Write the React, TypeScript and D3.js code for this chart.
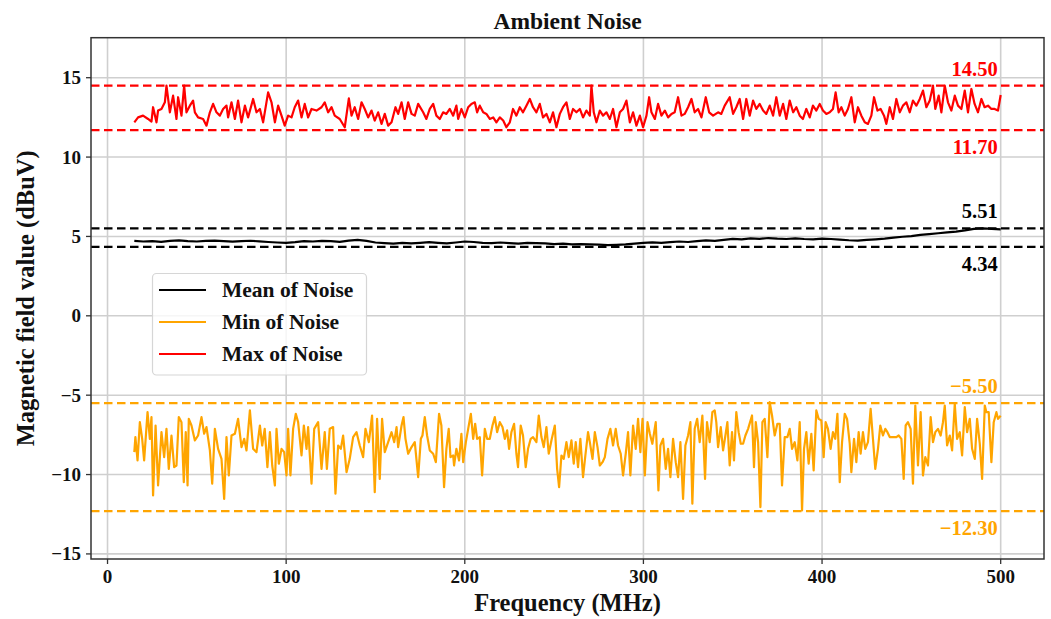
import React from "react";
import * as d3 from "d3";

// ---- Data ----
const xTicks = [0, 100, 200, 300, 400, 500];
const yTicks = [-15, -10, -5, 0, 5, 10, 15];
const seriesNames = ["Mean of Noise", "Min of Noise", "Max of Noise"];
const maxBounds = [14.5, 11.7];
const meanBounds = [5.51, 4.34];
const minBounds = [-5.5, -12.3];

const maxNoise: [number, number][] = [
  [15,12.19],[17.1,12.5],[19.9,12.61],[22.7,12.4],[24.6,12.23],[25.5,13.14],[27.4,12.19],[28.3,12.93],[30.2,13.03],[32.1,13.45],[33,14.5],[34.9,12.82],[36.7,13.87],[38.6,12.4],[39.5,13.77],[41.4,12.61],[42.9,14.5],[44.2,12.82],[46.1,13.24],[47.9,13.56],[48.9,12.82],[50.7,12.5],[53.5,12.4],[55.4,11.98],[57.3,12.82],[59.1,13.35],[61,12.82],[62.9,12.61],[64.7,13.03],[66.6,13.24],[67.5,12.5],[69.4,13.45],[71.3,12.4],[73.1,13.56],[75,12.19],[76.9,13.24],[78.7,12.5],[81.5,13.66],[83.4,12.82],[85.3,13.03],[87.1,12.19],[89.9,14.08],[91.8,13.45],[93.7,12.19],[95.5,13.24],[97.4,12.61],[99.2,11.98],[101.1,12.61],[103,12.5],[104.8,13.14],[106.7,13.56],[108.6,12.5],[110.4,13.35],[112.3,12.5],[114.2,13.03],[117,12.93],[119.8,13.14],[121.6,13.45],[123.5,12.82],[125.4,13.14],[127.2,12.61],[130,12.4],[132.8,11.88],[135.1,13.7],[136.6,12.61],[138.4,13.14],[140.3,12.4],[142.2,13.45],[144,13.03],[145.9,12.5],[147.8,12.93],[149.6,12.3],[151.5,12.82],[153.4,12.09],[155.2,12.72],[157.1,11.98],[159,12.19],[161.2,13.14],[162.7,12.72],[164.6,13.45],[166.4,12.4],[168.3,13.45],[170.2,12.72],[172,12.61],[173.9,13.35],
  [176.7,12.82],[178.5,12.4],[180.4,13.03],[182.3,13.35],[184.1,12.61],[186,12.4],[187.9,12.82],[189.7,12.72],[191.6,13.03],[193.5,12.61],[195.3,13.24],[196.3,12.4],[198.1,13.03],[200,12.5],[201.9,13.14],[203.7,13.35],[205.6,13.45],[206.9,12.82],[208.4,13.24],[210.3,12.82],[212.1,12.72],[214,12.4],[215.9,12.5],[217.7,12.19],[219.6,12.5],[221.5,12.3],[223.3,11.88],[225.2,12.19],[227,13.03],[228.9,12.61],[230.8,13.14],[232.6,12.82],[234.5,13.24],[236.4,13.66],[238.2,13.14],[240.1,12.82],[242,13.35],[243.8,12.5],[245.7,12.72],[247.6,12.19],[249.4,12.82],[251.3,11.88],[253.2,12.72],[255,13.14],[256.9,13.45],[258.8,12.4],[260.6,13.03],[262.5,12.82],[264.4,13.03],[266.2,12.5],[268.1,12.93],[270,12.61],[270.9,14.5],[272.2,12.82],[273.7,12.19],[275.6,12.93],[277.4,12.61],[279.3,12.82],[281.2,12.4],[283,13.03],[284.9,11.88],[286.8,12.82],[288.6,13.03],[290.5,13.56],[292.4,12.19],[294.2,12.82],[296.1,11.98],[298,12.61],[299.8,11.88],[301.7,12.61],[303.2,13.77],[304.5,12.82],[306.4,12.4],[308.2,13.35],[310.1,12.61],[312,12.93],[313.8,12.5],[315.7,12.72],[317.5,12.82],[319.4,13.77],[321.3,12.61],[323.1,12.72],[325,13.14],[326.9,13.66],[328.7,12.82],[330.6,13.03],[332.5,12.5],[334.9,13.77],[336.8,12.82],[339,12.61],
  [341.8,12.82],[343.6,12.72],[345.5,13.24],[348.3,13.77],[350.2,12.72],[352,13.14],[353.9,13.66],[355.8,12.4],[357.6,13.66],[359.5,12.61],[361.4,13.56],[363.2,13.03],[365.1,13.35],[367,12.93],[368.8,12.72],[370.7,13.24],[372.6,12.61],[374.4,13.77],[376.3,12.61],[378.2,13.35],[380,12.4],[381.9,13.56],[383.8,12.82],[385.6,13.14],[387.5,12.61],[389.3,12.4],[391.2,13.03],[393.1,12.5],[394.9,13.24],[396.8,12.93],[398.7,13.35],[400.5,12.93],[402.4,12.72],[404.3,12.82],[406.1,13.03],[407.6,14.08],[409.3,12.82],[410.8,13.14],[412.7,12.61],[414.5,13.03],[416.4,13.77],[418.3,12.19],[420.1,13.14],[422,12.61],[423.9,12.19],[425.7,12.09],[427.6,12.61],[429.1,13.77],[431,12.93],[432.8,13.03],[434.7,12.61],[436,12.09],[437.9,13.14],[439.7,12.4],[441.6,13.66],[443.5,12.82],[445.3,13.24],[447.2,13.45],[449.1,12.82],[450.9,13.56],[452.8,13.24],[454.7,13.66],[456.5,14.19],[458.4,13.14],[460.3,13.56],[462.1,14.5],[463.4,13.03],[465.3,13.87],[466.8,12.82],[468.7,14.5],[470.5,13.45],[472.4,12.93],[474.3,13.87],[476.1,13.24],[478,13.03],[479.9,14.19],[481.7,12.82],[483.6,14.29],[485.4,13.35],[487.3,12.82],[489.2,13.66],[491,13.14],[492.9,13.24],[494.8,13.03],[496.6,13.03],[498.5,12.93],[500,13.91]
];

const minNoise: [number, number][] = [
  [15,-8.59],[15.6,-7.64],[16.8,-9.11],[18.1,-6.7],[19.4,-7.75],[20.5,-9.11],[22.4,-6.07],[23.7,-7.75],[24.6,-6.38],[25.5,-11.32],[26.9,-6.91],[28.3,-10.69],[30.2,-7.33],[31.7,-8.9],[33,-7.12],[34.3,-9.64],[35.8,-7.54],[37.3,-9.53],[38.6,-9.43],[39.9,-6.38],[41.4,-6.7],[42.7,-10.48],[43.8,-7.33],[44.8,-10.69],[45.5,-6.49],[47,-6.91],[48.9,-7.85],[50.7,-7.54],[52.6,-6.38],[54.1,-7.43],[55.4,-7.01],[57.3,-8.48],[58.6,-10.58],[60.1,-7.12],[61.9,-8.38],[63.8,-9.01],[65.3,-11.53],[66.6,-7.64],[67.9,-10.06],[69.4,-7.54],[71.3,-7.43],[73.1,-6.49],[75,-8.27],[76.5,-7.75],[77.8,-8.48],[79.7,-5.96],[81.5,-8.38],[83.4,-8.59],[85.3,-6.91],[86.6,-8.17],[88,-7.12],[89.5,-9.53],[90.9,-7.33],[92.2,-9.43],[93.7,-10.69],[94.6,-7.12],[95.9,-9.32],[97.4,-8.38],[98.9,-8.59],[100.2,-10.06],[101.1,-7.12],[102.4,-10.06],[103.9,-7.12],[105.4,-6.17],[106.7,-6.7],[108.6,-8.8],[109.9,-6.91],[111.4,-8.38],[112.3,-7.01],[114.2,-10.58],[115.7,-7.12],[117.9,-6.7],[119.8,-9.64],[121.6,-7.33],[122.8,-9.64],[124.4,-7.12],[126.3,-7.01],[127.6,-11.21],[129.1,-8.17],[130.6,-8.38],[131.9,-7.54],[133.8,-9.85],[135.6,-9.01],[137.5,-7.64],[139.4,-7.33],[141.2,-8.17],[143.1,-8.9],[144.4,-7.12],[146.3,-7.96],[148.1,-6.28],[149.6,-11.11],[150.9,-6.49],[152.4,-10.27],[153.7,-6.49],[155.2,-8.59],[157.1,-7.96],[159,-7.33],[160.5,-7.96],[161.8,-7.01],[162.7,-8.27],[164.6,-6.91],[165.7,-6.38],[166.8,-7.75],[168.3,-8.69],[170.2,-8.27],[172,-7.96],[173.9,-10.16],[175.4,-7.75],
  [176.3,-7.54],[177.6,-6.38],[178.9,-7.54],[180.4,-8.48],[182.3,-8.69],[183.8,-9.22],[185.6,-6.17],[186.9,-6.91],[188.4,-10.79],[189.7,-8.38],[191,-7.12],[192,-8.9],[193.5,-8.8],[194,-9.43],[195.3,-8.38],[196.8,-9.11],[198.1,-7.43],[199.1,-9.22],[200.6,-7.96],[201.9,-7.12],[203.4,-6.17],[204.7,-7.75],[205.8,-6.8],[206.9,-7.75],[208.4,-7.64],[209.7,-10.06],[211.2,-7.12],[212.5,-7.75],[214,-7.75],[215.5,-6.91],[216.8,-6.38],[218.1,-7.33],[219.6,-6.7],[221.1,-7.01],[222.4,-7.75],[223.7,-7.22],[224.8,-8.38],[226.1,-7.33],[227.6,-6.8],[228.9,-8.69],[229.8,-9.53],[231.3,-6.91],[232.6,-7.54],[234.1,-9.53],[235.4,-8.38],[236.9,-7.75],[238.2,-7.64],[240.1,-7.96],[241.4,-6.28],[242.9,-7.64],[244.2,-8.27],[245.7,-7.01],[247,-8.69],[248.5,-7.85],[250.4,-6.91],[251.7,-9.64],[252.8,-10.79],[254.1,-8.8],[255.4,-9.01],[256.9,-7.96],[258.2,-8.9],[259.7,-7.85],[261,-9.32],[262.1,-7.96],[263.4,-9.53],[264.7,-7.75],[266.2,-10.16],[267.5,-8.8],[269,-7.33],[270,-7.96],[271.5,-9.01],[272.8,-7.33],[274.3,-8.27],[275.6,-9.43],[277.1,-9.22],[278.4,-8.9],[279.9,-7.75],[281.5,-7.12],[283,-8.17],[284.5,-7.12],[285.8,-8.17],[287.3,-8.69],[288.6,-10.06],[290.1,-8.69],[291.4,-7.33],[292.7,-10.06],[294.2,-6.91],[295.7,-8.38],[297,-6.49],[298.3,-8.59],[299.5,-6.49],[300.8,-10.06],[302.3,-6.7],[303.6,-7.43],[305,-8.06],[306.9,-6.7],[308.4,-11],[309.5,-8.17],[311,-7.75],[312.5,-9.64],[313.8,-8.38],[315.1,-10.16],[316.6,-7.75],[318.1,-9.22],[319.4,-10.16],[320.7,-7.96],[322.2,-11.53],[323.5,-8.17],[325,-7.54],[326.3,-6.7],[327.4,-11.84],[328.7,-7.12],[330.1,-6.49],[331.5,-7.96],[333,-6.28],[334.5,-10.27],[335.6,-6.7],[337.1,-7.96],[338.6,-6.07],
  [339.9,-5.96],[340.8,-6.7],[341.8,-8.27],[343.3,-7.01],[344.6,-8.48],[345.9,-7.54],[347,-6.7],[348.3,-9.43],[349.6,-7.33],[350.7,-9.11],[352,-6.07],[353.3,-7.33],[354.5,-8.06],[355.8,-8.06],[357.1,-7.54],[358.6,-7.12],[360.8,-6.28],[361.9,-9.53],[362.9,-6.7],[364.2,-7.96],[365.5,-12.05],[366.6,-6.7],[367.9,-6.49],[369.4,-8.9],[370.7,-5.44],[372,-6.28],[373.5,-7.54],[375,-6.8],[376.3,-6.8],[377.6,-10.69],[379.1,-7.64],[380.6,-7.64],[381.9,-7.12],[383.2,-8.38],[384.7,-7.96],[386.2,-9.11],[387.5,-6.7],[388.8,-12.26],[389.9,-8.38],[391.2,-7.33],[392.5,-9.32],[394,-7.43],[395.3,-9.74],[396.8,-5.96],[398.1,-6.49],[399.6,-6.59],[400.9,-8.9],[402,-6.7],[403.3,-7.12],[404.8,-8.38],[406.1,-7.33],[407.4,-7.75],[408.6,-6.17],[409.9,-10.48],[411.2,-7.96],[412.7,-6.17],[414,-6.49],[415.5,-8.06],[416.4,-9.85],[417.9,-7.75],[419.2,-9.22],[420.5,-7.33],[421.6,-8.69],[422.9,-7.33],[424.2,-8.38],[425.7,-7.96],[427.2,-5.86],[428.5,-7.75],[429.8,-9.64],[431.3,-8.38],[432.6,-6.91],[434.1,-7.54],[435.4,-7.12],[436.6,-7.33],[437.9,-7.64],[439.7,-7.64],[441.6,-7.64],[442.9,-7.54],[444.4,-7.75],[445.7,-10.27],[446.8,-6.91],[448.1,-6.7],[449.6,-7.12],[450.9,-10.58],[452.2,-5.65],[453.7,-9.43],[455.2,-6.07],[456.5,-10.06],[457.8,-8.9],[459.3,-9.43],[460.8,-6.38],[462.1,-7.96],[463.4,-7.33],[464.9,-7.12],[466.4,-7.54],[467.7,-6.7],[468.7,-5.65],[470,-8.17],[471.5,-7.54],[472.8,-8.48],[474.3,-5.54],[475.6,-7.75],[477.1,-7.33],[478.4,-8.8],[479.9,-5.75],[481.2,-7.33],[482.7,-6.49],[484,-8.38],[485.5,-9.01],[486.8,-6.49],[488.3,-8.06],[489.6,-10.27],[491.1,-5.65],[492,-6.07],[493.3,-6.07],[494.8,-9.22],[496.1,-6.7],[497.6,-6.07],[498.5,-6.49],[500,-6.3]
];

const meanNoise: [number, number][] = [
  [15,4.72],[20,4.68],[25,4.7],[30,4.66],[35,4.72],[40,4.75],[45,4.7],[50,4.68],[55,4.72],[60,4.74],[65,4.7],[70,4.67],[75,4.7],[80,4.73],[85,4.69],[90,4.65],[95,4.62],[100,4.6],[105,4.64],[110,4.7],[115,4.68],[120,4.72],[125,4.7],[130,4.66],[135,4.74],[140,4.78],[145,4.72],[150,4.62],[155,4.58],[160,4.55],[165,4.6],[170,4.56],[175,4.6],[180,4.64],[185,4.6],[190,4.56],[195,4.62],[200,4.68],[205,4.65],[210,4.6],[215,4.58],[220,4.62],[225,4.58],[230,4.55],[235,4.6],[240,4.58],[245,4.56],[250,4.52],[255,4.55],[260,4.5],[265,4.52],[270,4.5],[275,4.48],[280,4.45],[285,4.47],[290,4.5],[295,4.55],[300,4.6],[305,4.62],[310,4.6],[315,4.64],[320,4.68],[325,4.65],[330,4.7],[335,4.75],[340,4.72],[345,4.78],[350,4.85],[355,4.82],[360,4.88],[365,4.85],[370,4.9],[375,4.86],[380,4.84],[385,4.88],[390,4.84],[395,4.82],[400,4.86],[405,4.84],[410,4.8],[415,4.76],[420,4.74],[425,4.78],[430,4.82],[435,4.86],[440,4.92],[445,4.98],[450,5.02],[455,5.1],[460,5.15],[465,5.2],[470,5.26],[475,5.3],[480,5.38],[485,5.48],[490,5.51],[495,5.48],[500,5.45]
];

// ---- Layout ----
const W = 1051;
const H = 619;
const L = 91, R = 1044, T = 37.7, B = 559;
const FONT = "'Liberation Serif', 'DejaVu Serif', serif";
const COLORS = ["#000000", "#ffa500", "#ff0000"];

const fmt = (v: number, d = 0) => (v < 0 ? "\u2212" : "") + Math.abs(v).toFixed(d);

export default function App() {
  const x = d3.scaleLinear().domain([-9.25, 524.25]).range([L, R]);
  const y = d3.scaleLinear().domain([-15.32, 17.52]).range([B, T]);
  const line = d3
    .line<[number, number]>()
    .x((d) => x(d[0]))
    .y((d) => y(d[1]));

  const seriesData = [meanNoise, minNoise, maxNoise];
  const boundSets = [meanBounds, minBounds, maxBounds];
  const labelX = x(500) - 3;

  return (
    <svg
      width={W}
      height={H}
      style={{ position: "absolute", left: 0, top: 0, background: "#fff" }}
      fontFamily={FONT}
    >
      <defs>
        <clipPath id="plot">
          <rect x={L} y={T} width={R - L} height={B - T} />
        </clipPath>
      </defs>
      <rect x={0} y={0} width={W} height={H} fill="#fff" />
      {/* grid */}
      {xTicks.map((t) => (
        <line key={"gx" + t} x1={x(t)} x2={x(t)} y1={T} y2={B} stroke="#cfcfcf" strokeWidth={1.6} />
      ))}
      {yTicks.map((t) => (
        <line key={"gy" + t} x1={L} x2={R} y1={y(t)} y2={y(t)} stroke="#cfcfcf" strokeWidth={1.6} />
      ))}
      {/* bound lines */}
      <g clipPath="url(#plot)">
        {boundSets.map((bs, i) =>
          bs.map((b) => (
            <line
              key={"b" + i + b}
              x1={L}
              x2={R}
              y1={y(b)}
              y2={y(b)}
              stroke={COLORS[i]}
              strokeWidth={2.2}
              strokeDasharray="8.5,4.5"
            />
          ))
        )}
        {seriesData.map((s, i) => (
          <path key={"s" + i} d={line(s) || ""} fill="none" stroke={COLORS[i]} strokeWidth={2.2} strokeLinejoin="round" />
        ))}
      </g>
      {/* bound labels */}
      {boundSets.map((bs, i) => (
        <g key={"lab" + i} fill={COLORS[i]} fontWeight="bold" fontSize={20.5} textAnchor="end">
          <text x={labelX} y={y(bs[0]) - 10}>{fmt(bs[0], 2)}</text>
          <text x={labelX} y={y(bs[1]) + 24}>{fmt(bs[1], 2)}</text>
        </g>
      ))}
      {/* spines */}
      <rect x={L} y={T} width={R - L} height={B - T} fill="none" stroke="#333" strokeWidth={1.5} />
      {/* x ticks */}
      {xTicks.map((t) => (
        <g key={"xt" + t}>
          <line x1={x(t)} x2={x(t)} y1={B} y2={B + 5} stroke="#333" strokeWidth={1.3} />
          <text x={x(t)} y={B + 24} textAnchor="middle" fontSize={19} fontWeight="bold" fill="#111">
            {fmt(t)}
          </text>
        </g>
      ))}
      {/* y ticks */}
      {yTicks.map((t) => (
        <g key={"yt" + t}>
          <line x1={L - 5} x2={L} y1={y(t)} y2={y(t)} stroke="#333" strokeWidth={1.3} />
          <text x={L - 10} y={y(t) + 6.5} textAnchor="end" fontSize={19} fontWeight="bold" fill="#111">
            {fmt(t)}
          </text>
        </g>
      ))}
      {/* title & labels */}
      <text x={(L + R) / 2} y={29} textAnchor="middle" fontSize={23.5} fontWeight="bold" fill="#111">
        Ambient Noise
      </text>
      <text x={(L + R) / 2} y={611} textAnchor="middle" fontSize={24.5} fontWeight="bold" fill="#111">
        Frequency (MHz)
      </text>
      <text
        transform={`translate(34, ${(T + B) / 2}) rotate(-90)`}
        textAnchor="middle"
        fontSize={24.5}
        fontWeight="bold"
        fill="#111"
      >
        Magnetic field value (dBuV)
      </text>
      {/* legend */}
      <g>
        <rect x={152.5} y={273.5} width={214} height={101.5} rx={4} fill="#fff" fillOpacity={0.8} stroke="#d6d6d6" strokeWidth={1.2} />
        {seriesNames.map((n, i) => (
          <g key={"lg" + i}>
            <line x1={159} x2={206} y1={290 + i * 32} y2={290 + i * 32} stroke={COLORS[i]} strokeWidth={2.2} />
            <text x={222} y={290 + i * 32 + 7} fontSize={21.5} fontWeight="bold" fill="#111">
              {n}
            </text>
          </g>
        ))}
      </g>
    </svg>
  );
}
